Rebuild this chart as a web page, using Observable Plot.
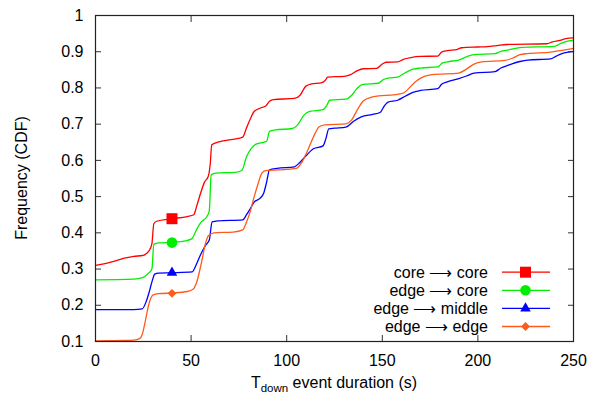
<!DOCTYPE html>
<html><head><meta charset="utf-8">
<script src="https://cdn.jsdelivr.net/npm/d3@7"></script>
<script src="https://cdn.jsdelivr.net/npm/@observablehq/plot@0.6"></script>
<style>html,body{margin:0;padding:0;background:#fff}svg{display:block}</style>
</head><body><div id="chart"></div>
<script>
// ---- data ----
const seriesNames = ["core → core", "edge → core", "edge → middle", "edge → edge"];
const seriesColors = ["#ff0000", "#00ee00", "#0000ff", "#ff5a1a"];
const seriesSymbols = ["square", "circle", "triangle", "diamond2"];
const markerX = [40, 40, 40, 40];
const markerY = [0.439, 0.373, 0.290, 0.233];
const xTicks = [0, 50, 100, 150, 200, 250];
const yTicks = [0.1, 0.2, 0.3, 0.4, 0.5, 0.6, 0.7, 0.8, 0.9, 1];

const coreCore = [[0,0.31],[5,0.315],[10,0.322],[15,0.33],[20,0.335],[25,0.338],[28,0.35],[29.5,0.37],[30.5,0.425],[32,0.432],[40,0.439],[48,0.445],[51.4,0.45],[53,0.475],[55,0.51],[57,0.54],[59,0.556],[60,0.59],[60.8,0.643],[65,0.652],[72,0.658],[77,0.664],[79,0.69],[81,0.715],[83,0.735],[86,0.744],[89,0.75],[91,0.763],[93,0.768],[104,0.771],[107,0.78],[110,0.805],[113,0.811],[118,0.814],[120,0.82],[121.5,0.83],[130,0.832],[133,0.836],[137,0.848],[140,0.853],[147,0.854],[150,0.866],[152,0.871],[158,0.872],[161,0.879],[165,0.884],[170,0.887],[179,0.888],[181,0.899],[184,0.903],[189,0.906],[191.5,0.911],[200,0.913],[205,0.914],[210,0.917],[215,0.92],[236,0.922],[239,0.927],[243,0.931],[246,0.936],[250,0.938]];
const edgeCore = [[0,0.27],[20,0.272],[25,0.277],[28,0.29],[29.5,0.3],[30.5,0.368],[33,0.372],[40,0.374],[47,0.378],[50.5,0.384],[52.5,0.405],[55,0.428],[58,0.443],[59.5,0.46],[60.5,0.56],[63,0.565],[73,0.567],[76.5,0.572],[79,0.61],[81.5,0.633],[84,0.645],[87,0.649],[89.5,0.653],[91,0.68],[94,0.684],[103,0.688],[106,0.7],[109,0.725],[112,0.735],[119,0.74],[121,0.752],[122.5,0.766],[131,0.769],[134,0.78],[137,0.8],[140,0.81],[148,0.813],[150.5,0.823],[153,0.827],[158,0.83],[162,0.842],[166,0.852],[170,0.855],[179,0.858],[181.5,0.869],[185,0.873],[190,0.877],[194,0.886],[198,0.892],[209,0.895],[212,0.901],[216,0.905],[223,0.912],[240,0.915],[243,0.922],[246,0.928],[250,0.932]];
const edgeMiddle = [[0,0.188],[20,0.188],[24.4,0.19],[26.5,0.21],[28,0.235],[29.6,0.266],[31,0.286],[33,0.289],[40,0.29],[50.5,0.292],[52.5,0.31],[55,0.34],[57.5,0.365],[59.5,0.38],[61,0.43],[64,0.433],[77,0.436],[79,0.45],[81,0.467],[83,0.485],[86,0.495],[88,0.51],[89.5,0.54],[91,0.574],[95,0.578],[104,0.582],[107,0.595],[110,0.612],[114,0.632],[119,0.64],[120.5,0.66],[122,0.687],[125,0.689],[131,0.692],[135,0.708],[139,0.72],[145,0.727],[149,0.733],[151,0.75],[153,0.761],[158,0.766],[162,0.777],[166,0.788],[170,0.793],[179,0.798],[181,0.81],[184,0.817],[190,0.826],[194,0.833],[198,0.841],[209,0.845],[212,0.855],[216,0.863],[222,0.873],[226,0.877],[238,0.88],[241,0.888],[244,0.895],[250,0.901]];
const edgeEdge = [[0,0.102],[15,0.103],[20,0.104],[23,0.108],[24.5,0.12],[26,0.155],[28,0.205],[30,0.228],[33,0.232],[40,0.234],[48,0.238],[51,0.244],[53,0.265],[55.5,0.32],[57.5,0.37],[59,0.392],[62,0.4],[72,0.402],[77,0.408],[79,0.43],[81,0.46],[83,0.5],[85,0.535],[87,0.565],[89,0.572],[96,0.574],[105,0.578],[108,0.595],[111,0.628],[114,0.665],[117,0.693],[120,0.698],[131,0.701],[134,0.712],[137,0.74],[140,0.764],[144,0.774],[148,0.778],[156,0.781],[161,0.786],[165,0.805],[168,0.82],[172,0.832],[176,0.837],[190,0.841],[194,0.852],[198,0.866],[202,0.872],[214,0.876],[218,0.882],[222,0.892],[226,0.895],[238,0.899],[244,0.904],[250,0.909]];

// ---- build tables ----
const seriesData = [coreCore, edgeCore, edgeMiddle, edgeEdge];
const rows = seriesData.flatMap((arr, i) => arr.map(([x, y]) => ({x, y, series: seriesNames[i]})));
const markerRadius = {square: 6.2, circle: 5.3, triangle: 3.9, diamond2: 4};
const markers = seriesNames.map((s, i) => ({x: markerX[i], y: markerY[i], series: s, r: markerRadius[seriesSymbols[i]]}));

const font = "'Liberation Sans', Arial, Helvetica, sans-serif";
const W = 592, H = 396, ML = 95, MR = 19, MT = 15, MB = 55;
const tickStroke = "#333";

const plot = Plot.plot({
  width: W, height: H,
  marginLeft: ML, marginRight: MR, marginTop: MT, marginBottom: MB,
  style: {fontFamily: font, fontSize: "16px", color: "#000", background: "#fff", overflow: "visible"},
  x: {domain: [0, 250]},
  y: {domain: [0.1, 1]},
  color: {domain: seriesNames, range: seriesColors},
  symbol: {domain: seriesNames, range: seriesSymbols},
  r: {type: "identity"},
  marks: [
    Plot.line(rows, {x: "x", y: "y", stroke: "series", z: "series", strokeWidth: 1.3, curve: "monotone-x"}),
    Plot.dot(markers, {x: "x", y: "y", fill: "series", symbol: "series", r: "r", stroke: null}),
    Plot.axisX(xTicks, {anchor: "bottom", tickSize: 0, tickPadding: 13, label: null, fontSize: 16}),
    Plot.axisX(xTicks, {anchor: "bottom", tickSize: 6, dy: -6, tickFormat: () => "", label: null, stroke: tickStroke}),
    Plot.axisX(xTicks, {anchor: "top", tickSize: 6, dy: 6, tickFormat: () => "", label: null, stroke: tickStroke}),
    Plot.axisY(yTicks, {anchor: "left", tickSize: 0, tickPadding: 12, label: null, fontSize: 16, tickFormat: d => String(d)}),
    Plot.axisY(yTicks, {anchor: "left", tickSize: 6, dx: 6, tickFormat: () => "", label: null, stroke: tickStroke}),
    Plot.axisY(yTicks, {anchor: "right", tickSize: 6, dx: -6, tickFormat: () => "", label: null, stroke: tickStroke}),
    Plot.frame({stroke: "#222", strokeWidth: 1.2})
  ]
});

// ---- axis titles & legend (layout only) ----
const svg = d3.select(plot);
const frameRight = W - MR, frameBottom = H - MB;

const xt = svg.append("text")
  .attr("x", (ML + frameRight) / 2).attr("y", 388)
  .attr("text-anchor", "middle").attr("font-family", font).attr("font-size", 16).attr("fill", "#000");
xt.append("tspan").text("T");
xt.append("tspan").attr("font-size", 11.5).attr("dy", 4).text("down");
xt.append("tspan").attr("dy", -4).text(" event duration (s)");

svg.append("text")
  .attr("transform", `translate(27,${(MT + frameBottom) / 2}) rotate(-90)`)
  .attr("text-anchor", "middle").attr("font-family", font).attr("font-size", 16).attr("fill", "#000")
  .text("Frequency (CDF)");

const symMap = {square: d3.symbolSquare, circle: d3.symbolCircle, triangle: d3.symbolTriangle, diamond2: d3.symbolDiamond2};
const lg = svg.append("g").attr("font-family", font).attr("font-size", 16).attr("fill", "#000");
seriesNames.forEach((name, i) => {
  const y = frameBottom - 14.5 - (3 - i) * 18.1;
  const parts = name.split("→");
  const t = lg.append("text").attr("x", frameRight - 85).attr("y", y).attr("dy", "0.36em").attr("text-anchor", "end");
  t.append("tspan").text(parts[0]);
  t.append("tspan").text("⟶");
  t.append("tspan").text(parts[1]);
  lg.append("line").attr("x1", frameRight - 71).attr("x2", frameRight - 23).attr("y1", y).attr("y2", y)
    .attr("stroke", seriesColors[i]).attr("stroke-width", 1.3);
  const rr = markerRadius[seriesSymbols[i]];
  lg.append("path").attr("transform", `translate(${frameRight - 47.5},${y})`)
    .attr("d", d3.symbol(symMap[seriesSymbols[i]], Math.PI * rr * rr)()).attr("fill", seriesColors[i]);
});

document.getElementById("chart").append(plot);
</script>
</body></html>
